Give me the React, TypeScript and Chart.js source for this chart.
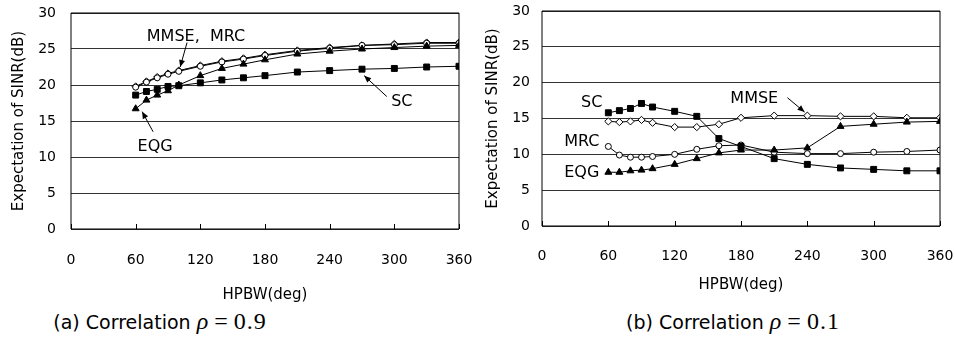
import React, { useEffect, useRef } from "react";
import { Chart, registerables } from "chart.js";

Chart.register(...registerables);

// ---------- data ----------
const hpbw = [60, 70, 80, 90, 100, 120, 140, 160, 180, 210, 240, 270, 300, 330, 360];
const xTickValues = [0, 60, 120, 180, 240, 300, 360];
const yTickValues = [0, 5, 10, 15, 20, 25, 30];

// (a) correlation 0.9
const aMMSE = [19.8, 20.5, 21.1, 21.6, 22.0, 22.7, 23.3, 23.7, 24.2, 24.8, 25.2, 25.5, 25.7, 25.9, 25.9];
const aMRC = [19.7, 20.4, 21.0, 21.5, 21.9, 22.6, 23.2, 23.6, 24.1, 24.7, 25.1, 25.5, 25.6, 25.8, 25.8];
const aEQG = [16.7, 17.9, 18.6, 19.2, 20.0, 21.3, 22.3, 22.9, 23.5, 24.3, 24.7, 25.0, 25.2, 25.4, 25.5];
const aSC = [18.6, 19.1, 19.4, 19.8, 19.9, 20.3, 20.7, 21.0, 21.3, 21.8, 22.0, 22.2, 22.3, 22.5, 22.6];

// (b) correlation 0.1
const bMMSE = [14.6, 14.5, 14.6, 14.8, 14.4, 13.8, 13.8, 14.2, 15.1, 15.4, 15.4, 15.3, 15.3, 15.1, 15.1];
const bMRC = [11.1, 9.9, 9.6, 9.6, 9.7, 10.0, 10.7, 11.2, 11.3, 10.3, 10.1, 10.1, 10.3, 10.4, 10.6];
const bEQG = [7.5, 7.5, 7.7, 7.8, 8.0, 8.6, 9.4, 10.2, 10.6, 10.6, 10.9, 13.9, 14.2, 14.5, 14.6];
const bSC = [15.8, 16.1, 16.4, 17.1, 16.6, 16.0, 15.3, 12.2, 11.1, 9.4, 8.6, 8.1, 7.9, 7.7, 7.7];

const xTitle = "HPBW(deg)";
const yTitle = "Expectation of SINR(dB)";

// annotation labels (data coordinates)
const aLabels = [
  { text: "MMSE,  MRC", x: 116, y: 26.7 },
  { text: "EQG", x: 78, y: 11.4 },
  { text: "SC", x: 307, y: 17.7 },
];
const aArrows = [
  { x1: 107.7, y1: 25.9, x2: 101.3, y2: 22.5 },
  { x1: 76.2, y1: 13.5, x2: 66, y2: 16.3 },
  { x1: 293, y1: 18.4, x2: 272, y2: 21.3 },
];
const bLabels = [
  { text: "SC", x: 45, y: 17.2 },
  { text: "MMSE", x: 192, y: 17.7 },
  { text: "MRC", x: 36, y: 11.7 },
  { text: "EQG", x: 36, y: 7.4 },
];
const bArrows = [{ x1: 222, y1: 17.9, x2: 237.5, y2: 15.9 }];

const FONT = "'DejaVu Sans', 'Liberation Sans', Arial, sans-serif";

const decorPlugin = {
  id: "decor",
  afterDraw(chart: any, _args: any, opts: any) {
    const { ctx, chartArea: a, scales } = chart;
    const xs = scales.x;
    const ys = scales.y;
    ctx.save();
    ctx.strokeStyle = "#000";
    ctx.lineWidth = 1;
    // plot box
    ctx.beginPath();
    ctx.moveTo(a.left, a.top);
    ctx.lineTo(a.right, a.top);
    ctx.lineTo(a.right, a.bottom);
    ctx.lineTo(a.left, a.bottom);
    ctx.closePath();
    ctx.stroke();
    // inward tick marks on x axis
    ctx.beginPath();
    for (const t of xs.ticks) {
      const px = Math.round(xs.getPixelForValue(t.value)) + 0.5;
      ctx.moveTo(px, a.bottom);
      ctx.lineTo(px, a.bottom - 5);
    }
    ctx.stroke();
    // arrows
    for (const ar of opts.arrows || []) {
      const x1 = xs.getPixelForValue(ar.x1);
      const y1 = ys.getPixelForValue(ar.y1);
      const x2 = xs.getPixelForValue(ar.x2);
      const y2 = ys.getPixelForValue(ar.y2);
      ctx.beginPath();
      ctx.moveTo(x1, y1);
      ctx.lineTo(x2, y2);
      ctx.stroke();
      const ang = Math.atan2(y2 - y1, x2 - x1);
      const L = 7;
      const W = 3;
      ctx.beginPath();
      ctx.moveTo(x2, y2);
      ctx.lineTo(x2 - L * Math.cos(ang) + W * Math.sin(ang), y2 - L * Math.sin(ang) - W * Math.cos(ang));
      ctx.lineTo(x2 - L * Math.cos(ang) - W * Math.sin(ang), y2 - L * Math.sin(ang) + W * Math.cos(ang));
      ctx.closePath();
      ctx.fillStyle = "#000";
      ctx.fill();
    }
    // labels
    ctx.fillStyle = "#000";
    ctx.font = `16px ${FONT}`;
    ctx.textAlign = "center";
    ctx.textBaseline = "middle";
    for (const lb of opts.labels || []) {
      ctx.fillText(lb.text, xs.getPixelForValue(lb.x), ys.getPixelForValue(lb.y));
    }
    ctx.restore();
  },
};

function series(label: string, data: number[], style: string, filled: boolean, radius: number) {
  return {
    label,
    data: hpbw.map((x, i) => ({ x, y: data[i] })),
    borderColor: "#000",
    borderWidth: 1,
    pointStyle: style,
    pointRadius: radius,
    pointBorderWidth: 1,
    pointBorderColor: "#000",
    pointBackgroundColor: filled ? "#000" : "#fff",
    fill: false,
    tension: 0,
  };
}

type PanelProps = {
  width: number;
  height: number;
  padTop: number;
  padRight: number;
  yAxisWidth: number;
  xAxisHeight: number;
  yTitlePad: number;
  yTickPad: number;
  xTickPad: number;
  xTitlePad: number;
  datasets: any[];
  labels: any[];
  arrows: any[];
};

function Panel(p: PanelProps) {
  const ref = useRef<HTMLCanvasElement>(null);
  useEffect(() => {
    if (!ref.current) return;
    const chart = new Chart(ref.current, {
      type: "line",
      data: { datasets: p.datasets },
      options: {
        responsive: false,
        animation: false,
        devicePixelRatio: 1,
        layout: { padding: { left: 0, top: p.padTop, right: p.padRight, bottom: 0 } },
        plugins: {
          legend: { display: false },
          tooltip: { enabled: false },
          decor: { labels: p.labels, arrows: p.arrows },
        } as any,
        scales: {
          x: {
            type: "linear",
            min: 0,
            max: 360,
            afterBuildTicks: (s: any) => {
              s.ticks = xTickValues.map((v) => ({ value: v }));
            },
            afterFit: (s: any) => {
              s.height = p.xAxisHeight;
              s.paddingLeft = 0;
              s.paddingRight = 0;
            },
            grid: { display: false },
            border: { display: false },
            ticks: {
              color: "#000",
              font: { family: FONT, size: 14 },
              padding: p.xTickPad,
              maxRotation: 0,
              autoSkip: false,
            },
            title: {
              display: true,
              text: xTitle,
              color: "#000",
              font: { family: FONT, size: 15 },
              padding: { top: 0, bottom: p.xTitlePad },
            },
          },
          y: {
            type: "linear",
            min: 0,
            max: 30,
            afterBuildTicks: (s: any) => {
              s.ticks = yTickValues.map((v) => ({ value: v }));
            },
            afterFit: (s: any) => {
              s.width = p.yAxisWidth;
              s.paddingTop = 0;
              s.paddingBottom = 0;
            },
            grid: { color: "#333", lineWidth: 1, drawTicks: false },
            border: { display: false },
            ticks: {
              color: "#000",
              font: { family: FONT, size: 14 },
              padding: p.yTickPad,
              autoSkip: false,
            },
            title: {
              display: true,
              text: yTitle,
              color: "#000",
              font: { family: FONT, size: 15 },
              padding: { top: p.yTitlePad, bottom: 0 },
            },
          },
        },
      },
      plugins: [decorPlugin as any],
    });
    return () => chart.destroy();
  }, []);
  return <canvas ref={ref} width={p.width} height={p.height} style={{ width: p.width, height: p.height, display: "block" }} />;
}

function Caption({ tag, rho }: { tag: string; rho: string }) {
  return (
    <span style={{ whiteSpace: "nowrap" }}>
      <span style={{ fontFamily: FONT, fontSize: 19 }}>{tag} Correlation </span>
      <span style={{ fontFamily: "'Liberation Serif', 'Times New Roman', serif", fontSize: 24 }}>
        <i>ρ</i>
        <span style={{ margin: "0 6px" }}>=</span>
        <span style={{ letterSpacing: 1 }}>{rho}</span>
      </span>
    </span>
  );
}

export default function App() {
  const aSets = [
    series("SC", aSC, "rect", true, 4.2),
    series("EQG", aEQG, "triangle", true, 4),
    series("MRC", aMRC, "circle", false, 3),
    series("MMSE", aMMSE, "rectRot", false, 3.6),
  ];
  const bSets = [
    series("SC", bSC, "rect", true, 4.2),
    series("EQG", bEQG, "triangle", true, 4),
    series("MRC", bMRC, "circle", false, 3),
    series("MMSE", bMMSE, "rectRot", false, 3.6),
  ];
  return (
    <div style={{ position: "absolute", left: 0, top: 0, width: 954, height: 339, background: "#fff", overflow: "hidden" }}>
      <div style={{ position: "absolute", left: 0, top: 0 }}>
        <Panel
          width={480}
          height={305}
          padTop={13}
          padRight={21}
          yAxisWidth={71}
          xAxisHeight={76}
          yTitlePad={10}
          yTickPad={15}
          xTickPad={15}
          xTitlePad={1}
          datasets={aSets}
          labels={aLabels}
          arrows={aArrows}
        />
      </div>
      <div style={{ position: "absolute", left: 480, top: 0 }}>
        <Panel
          width={474}
          height={300}
          padTop={11}
          padRight={14}
          yAxisWidth={62}
          xAxisHeight={74}
          yTitlePad={4}
          yTickPad={12}
          xTickPad={14}
          xTitlePad={6}
          datasets={bSets}
          labels={bLabels}
          arrows={bArrows}
        />
      </div>
      <div style={{ position: "absolute", left: 0, width: 320, top: 307, textAlign: "center", lineHeight: "28px" }}>
        <Caption tag="(a)" rho="0.9" />
      </div>
      <div style={{ position: "absolute", left: 573, width: 320, top: 307, textAlign: "center", lineHeight: "28px" }}>
        <Caption tag="(b)" rho="0.1" />
      </div>
    </div>
  );
}
